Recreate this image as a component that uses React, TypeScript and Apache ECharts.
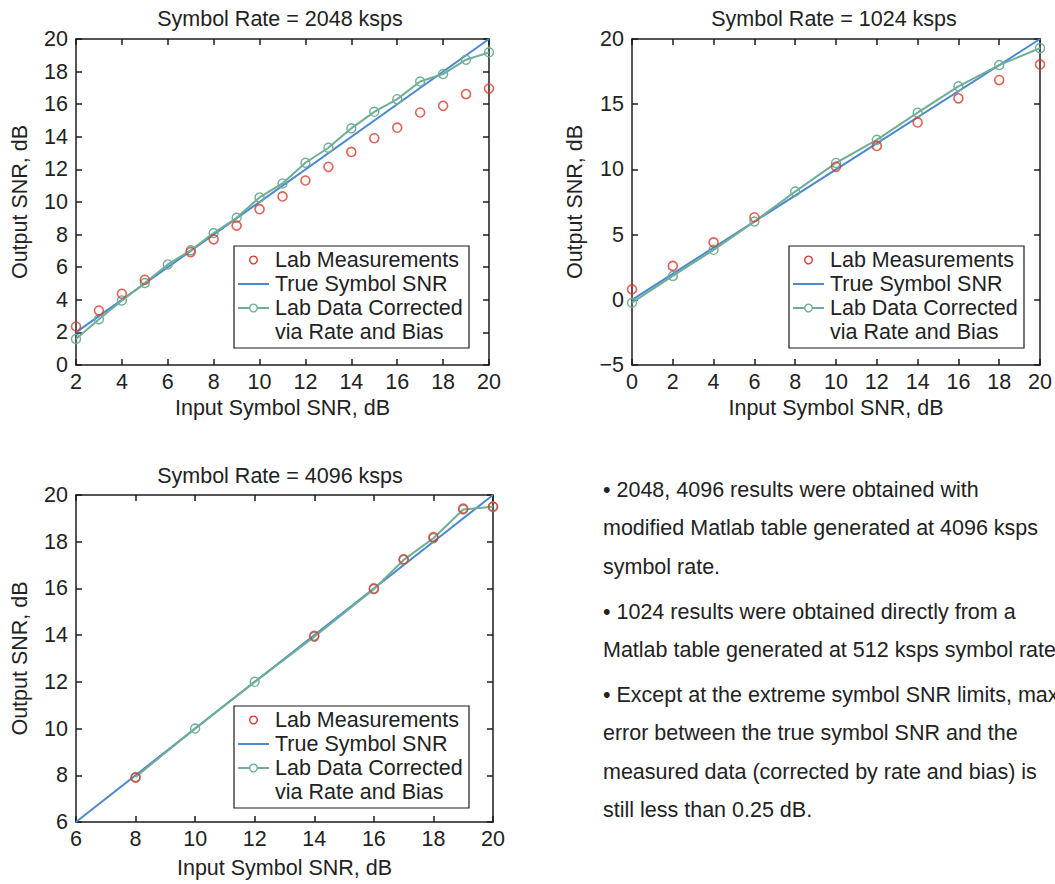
import React, { useEffect, useRef } from "react";
import * as echarts from "echarts";

// ---------- data ----------
// Symbol Rate = 2048 ksps
const measX2048 = [2, 3, 4, 5, 7, 8, 9, 10, 11, 12, 13, 14, 15, 16, 17, 18, 19, 20];
const measY2048 = [2.36, 3.34, 4.37, 5.23, 6.93, 7.71, 8.55, 9.56, 10.34, 11.32, 12.16, 13.07, 13.91, 14.56, 15.49, 15.9, 16.62, 16.96];
const corrX2048 = [2, 3, 4, 5, 6, 7, 8, 9, 10, 11, 12, 13, 14, 15, 16, 17, 18, 19, 20];
const corrY2048 = [1.6, 2.81, 3.96, 5.03, 6.17, 7.04, 8.1, 9.03, 10.28, 11.14, 12.41, 13.33, 14.52, 15.53, 16.31, 17.39, 17.85, 18.73, 19.18];
const trueX2048 = [2, 20];

// Symbol Rate = 1024 ksps
const measX1024 = [0, 2, 4, 6, 10, 12, 14, 16, 18, 20];
const measY1024 = [0.8, 2.6, 4.4, 6.33, 10.2, 11.8, 13.6, 15.45, 16.85, 18.05];
const corrX1024 = [0, 2, 4, 6, 8, 10, 12, 14, 16, 18, 20];
const corrY1024 = [-0.22, 1.83, 3.83, 6.0, 8.3, 10.5, 12.27, 14.35, 16.37, 18.0, 19.3];
const trueX1024 = [0, 20];

// Symbol Rate = 4096 ksps
const measX4096 = [8, 14, 16, 17, 18, 19, 20];
const measY4096 = [7.9, 13.97, 16.0, 17.25, 18.2, 19.42, 19.5];
const corrX4096 = [8, 10, 12, 14, 16, 17, 18, 19, 20];
const corrY4096 = [7.93, 10.0, 12.0, 13.93, 15.97, 17.22, 18.15, 19.38, 19.5];
const trueX4096 = [6, 20];

const titles = ["Symbol Rate = 2048 ksps", "Symbol Rate = 1024 ksps", "Symbol Rate = 4096 ksps"];
const xName = "Input Symbol SNR, dB";
const yName = "Output SNR, dB";
const legendLabels = ["Lab Measurements", "True Symbol SNR", "Lab Data Corrected", "via Rate and Bias"];
const notes = [
  "• 2048, 4096 results were obtained with",
  "modified Matlab table generated at 4096 ksps",
  "symbol rate.",
  "• 1024 results were obtained directly from a",
  "Matlab table generated at 512 ksps symbol rate.",
  "• Except at the extreme symbol SNR limits, max",
  "error between the true symbol SNR and the",
  "measured data (corrected by rate and bias) is",
  "still less than 0.25 dB.",
];

// ---------- styles ----------
const FONT = '"Liberation Sans", Arial, Helvetica, sans-serif';
const FS = 21.5;
const TXT = "#222222";
const AX = "#1c1c1c";
const RED = "#d93a2b";
const BLUE = "#4a88d0";
const GREEN = "#6fae96";

const pairs = (xs: number[], ys: number[]) => xs.map((x, i) => [x, ys[i]]);
const minusFmt = (v: number) => String(v).replace("-", "\u2212");

type PanelCfg = {
  grid: { left: number; top: number; width: number; height: number };
  x: [number, number, number];
  y: [number, number, number];
  xGap: number;
  yGap: number;
  title: [number, number];
  legend: [number, number];
  meas: number[][];
  corr: number[][];
  tru: number[][];
};

const panels: PanelCfg[] = [
  {
    grid: { left: 76, top: 39, width: 413, height: 326 },
    x: [2, 20, 2],
    y: [0, 20, 2],
    xGap: 32,
    yGap: 45,
    title: [280, 19],
    legend: [234, 246],
    meas: pairs(measX2048, measY2048),
    corr: pairs(corrX2048, corrY2048),
    tru: trueX2048.map((v) => [v, v]),
  },
  {
    grid: { left: 632, top: 39, width: 412, height: 326 },
    x: [0, 20, 2],
    y: [-5, 20, 5],
    xGap: 32,
    yGap: 46,
    title: [834, 19],
    legend: [789, 246],
    meas: pairs(measX1024, measY1024),
    corr: pairs(corrX1024, corrY1024),
    tru: trueX1024.map((v) => [v, v]),
  },
  {
    grid: { left: 76, top: 495, width: 417, height: 327 },
    x: [6, 20, 2],
    y: [6, 20, 2],
    xGap: 35,
    yGap: 45,
    title: [280, 476],
    legend: [234, 706],
    meas: pairs(measX4096, measY4096),
    corr: pairs(corrX4096, corrY4096),
    tru: trueX4096.map((v) => [v, v]),
  },
];

const lineStyle = { color: AX, width: 1.5 };

function buildOption() {
  const grid: any[] = [];
  const xAxis: any[] = [];
  const yAxis: any[] = [];
  const series: any[] = [];
  const graphic: any[] = [];

  panels.forEach((p, i) => {
    grid.push({ ...p.grid, containLabel: false });
    const common = {
      type: "value",
      gridIndex: i,
      splitLine: { show: false },
      axisLine: { show: true, onZero: false, lineStyle },
      axisTick: { show: true, inside: true, length: 6, lineStyle },
    };
    xAxis.push({
      ...common,
      position: "bottom",
      min: p.x[0],
      max: p.x[1],
      interval: p.x[2],
      name: xName,
      nameLocation: "middle",
      nameGap: p.xGap,
      nameTextStyle: { fontSize: FS, color: TXT, fontFamily: FONT },
      axisLabel: { fontSize: FS, color: TXT, fontFamily: FONT, margin: 6, formatter: minusFmt },
    });
    xAxis.push({
      ...common,
      position: "top",
      min: p.x[0],
      max: p.x[1],
      interval: p.x[2],
      axisLabel: { show: false },
    });
    yAxis.push({
      ...common,
      position: "left",
      min: p.y[0],
      max: p.y[1],
      interval: p.y[2],
      name: yName,
      nameLocation: "middle",
      nameGap: p.yGap,
      nameTextStyle: { fontSize: FS, color: TXT, fontFamily: FONT },
      axisLabel: { fontSize: FS, color: TXT, fontFamily: FONT, margin: 8, formatter: minusFmt },
    });
    yAxis.push({
      ...common,
      position: "right",
      min: p.y[0],
      max: p.y[1],
      interval: p.y[2],
      axisLabel: { show: false },
    });

    const xi = i * 2;
    const yi = i * 2;
    series.push({
      name: "True Symbol SNR",
      type: "line",
      xAxisIndex: xi,
      yAxisIndex: yi,
      data: p.tru,
      showSymbol: false,
      symbol: "none",
      lineStyle: { color: BLUE, width: 2 },
      z: 2,
    });
    series.push({
      name: "Lab Data Corrected via Rate and Bias",
      type: "line",
      xAxisIndex: xi,
      yAxisIndex: yi,
      data: p.corr,
      symbol: "circle",
      symbolSize: 9,
      itemStyle: { color: "rgba(0,0,0,0)", borderColor: GREEN, borderWidth: 1.4 },
      lineStyle: { color: GREEN, width: 2 },
      z: 3,
    });
    series.push({
      name: "Lab Measurements",
      type: "scatter",
      xAxisIndex: xi,
      yAxisIndex: yi,
      data: p.meas,
      symbol: "circle",
      symbolSize: 9,
      itemStyle: { color: "rgba(0,0,0,0)", borderColor: RED, borderWidth: 1.6 },
      z: 4,
    });

    // title
    graphic.push({
      type: "text",
      x: p.title[0],
      y: p.title[1],
      z: 100,
      style: { text: titles[i], fontSize: FS, fontFamily: FONT, fill: TXT, align: "center", verticalAlign: "middle" },
    });

    // legend box
    const tStyle = (t: string, y: number) => ({
      type: "text",
      x: 41,
      y,
      style: { text: t, fontSize: FS, fontFamily: FONT, fill: TXT, align: "left", verticalAlign: "middle" },
    });
    graphic.push({
      type: "group",
      x: p.legend[0],
      y: p.legend[1],
      z: 100,
      children: [
        { type: "rect", shape: { x: 0, y: 0, width: 235, height: 102 }, style: { fill: "#fff", stroke: AX, lineWidth: 1.2 } },
        { type: "circle", shape: { cx: 19.5, cy: 14, r: 3.8 }, style: { fill: "none", stroke: RED, lineWidth: 1.4 } },
        { type: "line", shape: { x1: 4, y1: 38, x2: 35, y2: 38 }, style: { stroke: BLUE, lineWidth: 2 } },
        { type: "line", shape: { x1: 4, y1: 62, x2: 35, y2: 62 }, style: { stroke: GREEN, lineWidth: 2 } },
        { type: "circle", shape: { cx: 19.5, cy: 62, r: 3.8 }, style: { fill: "#fff", stroke: GREEN, lineWidth: 1.4 } },
        tStyle(legendLabels[0], 14),
        tStyle(legendLabels[1], 38),
        tStyle(legendLabels[2], 62),
        tStyle(legendLabels[3], 86),
      ],
    });
  });

  const noteY = [490, 528, 567, 612, 650, 695, 733, 772, 810];
  notes.forEach((t, k) => {
    graphic.push({
      type: "text",
      x: 603,
      y: noteY[k],
      z: 100,
      style: { text: t, fontSize: FS, fontFamily: FONT, fill: TXT, align: "left", verticalAlign: "middle" },
    });
  });

  return {
    animation: false,
    backgroundColor: "#ffffff",
    grid,
    xAxis,
    yAxis,
    series,
    graphic,
  };
}

export default function App() {
  const ref = useRef<HTMLDivElement>(null);
  useEffect(() => {
    if (!ref.current) return;
    const chart = echarts.init(ref.current, undefined, { renderer: "svg" });
    chart.setOption(buildOption() as any);
    return () => chart.dispose();
  }, []);
  return (
    <div
      ref={ref}
      style={{ position: "absolute", left: 0, top: 0, width: 1055, height: 884, background: "#fff" }}
    />
  );
}
